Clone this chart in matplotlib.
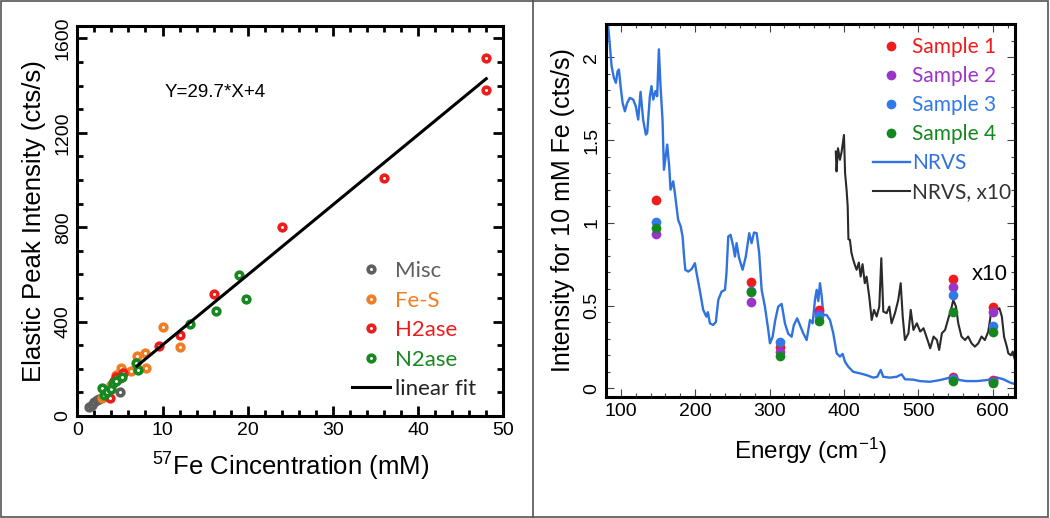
import matplotlib
matplotlib.use("Agg")
import matplotlib.pyplot as plt
from matplotlib.ticker import MultipleLocator, FormatStrFormatter
from matplotlib.lines import Line2D
from matplotlib.patches import Rectangle
import numpy as np

plt.rcParams['font.family'] = ['Liberation Sans', 'DejaVu Sans']
plt.rcParams['mathtext.fontset'] = 'custom'
plt.rcParams['mathtext.rm'] = 'Liberation Sans'
plt.rcParams['mathtext.it'] = 'Liberation Sans:italic'

# ---------------- Left panel data ----------------
misc_x = [1.4, 1.7, 2.0, 2.3, 2.6, 5.0]
misc_y = [37, 45, 58, 66, 72, 103]
fes_x = [2.9, 3.2, 3.6, 4.0, 4.6, 5.1, 5.5, 6.3, 7.0, 8.0, 8.1, 10.0, 12.0]
fes_y = [75, 95, 110, 130, 175, 202, 185, 192, 254, 266, 202, 376, 294]
h2_x = [3.8, 4.3, 4.6, 5.0, 5.4, 9.6, 12.0, 16.0, 24.0, 36.0, 48.0, 48.0]
h2_y = [78, 150, 165, 160, 181, 298, 343, 517, 800, 1009, 1519, 1381]
n2_x = [2.9, 3.1, 3.5, 3.9, 4.2, 4.5, 5.2, 6.9, 7.1, 13.2, 16.3, 19.0, 19.8]
n2_y = [120, 88, 103, 115, 138, 150, 167, 226, 196, 389, 444, 598, 494]
fit_slope = 29.7
fit_intercept = 4
fit_range = [7, 48]

# ---------------- Right panel data ----------------
sample_E = [147, 275, 314, 366, 546, 600]
sample1 = [1.14, 0.641, 0.252, 0.474, 0.066, 0.049]
sample2 = [0.932, 0.524, 0.222, 0.45, 0.062, 0.046]
sample3 = [1.002, 0.585, 0.278, 0.44, 0.057, 0.038]
sample4 = [0.966, 0.583, 0.197, 0.409, 0.046, 0.034]
x10_sample_E = [546, 600]
sample1_x10 = [0.663, 0.49]
sample2_x10 = [0.615, 0.463]
sample3_x10 = [0.566, 0.377]
sample4_x10 = [0.46, 0.343]

nrvs_E = [80, 82.9, 85.2, 87.5, 90.6, 93.3, 95.6, 97.4, 99.6, 102.3,
          105.4, 108.5, 112, 116.5, 120, 123.3, 126.5, 130, 133.6, 135.4,
          139, 141.2, 143.5, 146.6, 148.8, 151.1, 153.3, 156, 157.9, 162.3,
          165, 166.8, 170.4, 172.6, 177, 180.3, 183, 185, 186.6, 190.6,
          195, 199.6, 201.8, 206, 210.7, 215, 217, 219.7, 224, 227.7,
          231, 235.4, 240, 242, 244.4, 247.5, 251, 253.4, 255.6, 258.8,
          263.7, 268, 272.6, 275.8, 279, 282.6, 286, 289.3, 293.7, 298.2,
          300.5, 304, 307.6, 311.6, 316.2, 320.6, 325, 329.6, 332.5, 337,
          341.6, 345.2, 349.8, 354.3, 357.9, 361, 363.3, 365.5, 367.7, 370,
          372.2, 376.7, 381.2, 385.6, 390.2, 394.6, 398.2, 401.4, 405.8, 412.5,
          421.4, 430.4, 439.4, 444.8, 449.4, 452.8, 461.8, 470.8, 477.6, 482,
          493, 502, 515.5, 529, 538, 547, 556, 565, 578.5, 592,
          605.5, 614.5, 623.5, 630]
nrvs_I = [2.3, 2.19, 2.07, 1.946, 1.875, 1.845, 1.915, 1.925, 1.825, 1.724,
          1.673, 1.724, 1.754, 1.744, 1.704, 1.623, 1.79, 1.62, 1.532, 1.542,
          1.764, 1.825, 1.744, 1.795, 1.764, 2.047, 1.825, 1.623, 1.32, 1.472,
          1.34, 1.2, 1.25, 1.18, 1.018, 0.98, 0.917, 0.796, 0.716, 0.705,
          0.72, 0.756, 0.696, 0.595, 0.474, 0.433, 0.46, 0.393, 0.383, 0.40,
          0.534, 0.584, 0.595, 0.696, 0.917, 0.927, 0.86, 0.796, 0.877, 0.79,
          0.716, 0.796, 0.937, 0.877, 0.941, 0.937, 0.817, 0.595, 0.494, 0.353,
          0.272, 0.31, 0.413, 0.494, 0.51, 0.393, 0.33, 0.312, 0.38, 0.423,
          0.373, 0.333, 0.292, 0.413, 0.393, 0.534, 0.595, 0.527, 0.635, 0.56,
          0.443, 0.443, 0.413, 0.333, 0.212, 0.192, 0.208, 0.161, 0.131, 0.10,
          0.091, 0.08, 0.065, 0.07, 0.111, 0.07, 0.065, 0.07, 0.085, 0.055,
          0.053, 0.044, 0.04, 0.05, 0.06, 0.07, 0.05, 0.044, 0.044, 0.05,
          0.066, 0.055, 0.035, 0.026]

x10_E = [389, 390, 392, 394.6, 396.9, 400, 401.5, 403.5, 405, 406,
         408, 410, 412.5, 415, 417, 420, 422.4, 425, 428, 430.4,
         434, 437.3, 440.4, 444, 447.5, 450.2, 452.9, 457.4, 461, 464,
         468.6, 473, 476.3, 479, 482, 486.7, 489.8, 493.4, 498, 502.5,
         507, 512.4, 516, 520.5, 525, 528, 531.7, 536, 540.4, 545,
         547, 550.6, 553.7, 558, 562.7, 567, 571.6, 576, 580.6, 585,
         589.5, 594, 597.4, 601, 605.5, 609, 612.3, 615.3, 619, 621,
         624.3, 627, 630]
x10_I = [1.43, 1.31, 1.45, 1.38, 1.43, 1.53, 1.3, 1.2, 1.1, 0.9,
         0.897, 0.82, 0.776, 0.74, 0.716, 0.76, 0.675, 0.75, 0.635, 0.675,
         0.553, 0.413, 0.474, 0.434, 0.494, 0.786, 0.464, 0.454, 0.494, 0.393,
         0.454, 0.534, 0.635, 0.434, 0.292, 0.333, 0.474, 0.353, 0.393, 0.343,
         0.363, 0.292, 0.242, 0.313, 0.292, 0.232, 0.333, 0.353, 0.423, 0.494,
         0.534, 0.494, 0.393, 0.313, 0.292, 0.313, 0.272, 0.252, 0.272, 0.313,
         0.292, 0.343, 0.443, 0.494, 0.474, 0.484, 0.434, 0.312, 0.252, 0.212,
         0.20, 0.222, 0.171]

# ---------------- Styles ----------------
C_MISC = '#5f5f5f'
C_FES = '#f07d22'
C_H2 = '#ee1d1d'
C_N2 = '#17871f'
C_S1 = '#f01c1c'
C_S2 = '#9a35c8'
C_S3 = '#2f7ae8'
C_S4 = '#15871f'
C_NRVS = '#2f72e0'
C_X10 = '#2a2a2a'

fig = plt.figure(figsize=(10.5, 5.18), dpi=100)

# frames
fig.add_artist(Rectangle((0.001, 0.002), 0.997, 0.996, transform=fig.transFigure,
                         fill=False, ec='#555555', lw=1.2))
fig.add_artist(Line2D([533 / 1050, 533 / 1050], [0, 1], transform=fig.transFigure,
                      color='#555555', lw=1.2))

# ================= Left panel =================
ax1 = fig.add_axes([77.3 / 1050, (518 - 416) / 518, 426 / 1050, (416 - 25.5) / 518])
ring = dict(marker='o', ms=4.8, mew=2.6, mfc='white', ls='none')
ax1.plot(misc_x, misc_y, mec=C_MISC, label='Misc', **ring)
ax1.plot(fes_x, fes_y, mec=C_FES, label='Fe-S', **ring)
ax1.plot(h2_x, h2_y, mec=C_H2, label='H2ase', **ring)
ax1.plot(n2_x, n2_y, mec=C_N2, label='N2ase', **ring)
fx = np.array(fit_range, dtype=float)
ax1.plot(fx, fit_slope * fx + fit_intercept, color='black', lw=2.2, label='linear fit')

ax1.set_xlim(0, 50)
ax1.set_ylim(0, 1655)
ax1.xaxis.set_major_locator(MultipleLocator(10))
ax1.xaxis.set_minor_locator(MultipleLocator(2))
ax1.yaxis.set_major_locator(MultipleLocator(400))
ax1.yaxis.set_minor_locator(MultipleLocator(100))
for s in ax1.spines.values():
    s.set_linewidth(2.2)
ax1.tick_params(which='both', direction='in', top=True, right=True, width=2.0)
ax1.tick_params(which='major', length=7, labelsize=14, pad=4)
ax1.tick_params(which='minor', length=4)
ax1.tick_params(axis='y', labelrotation=90)
for lab in ax1.get_yticklabels():
    lab.set_va('center')
ax1.set_xlabel(r'$^{57}$Fe Cincentration (mM)', fontsize=18.5, labelpad=9)
ax1.set_ylabel('Elastic Peak Intensity (cts/s)', fontsize=18.5, labelpad=6)
ax1.text(10.3, 1372, 'Y=29.7*X+4', fontsize=13.5, va='center', ha='left')

leg1 = ax1.legend(loc='upper left', bbox_to_anchor=(0.645, 0.397), frameon=False,
                  prop={'family': 'Lato', 'size': 16}, handlelength=1.7,
                  handletextpad=0.25, labelspacing=0.43, borderpad=0, borderaxespad=0)
for t, c in zip(leg1.get_texts(), [C_MISC, C_FES, C_H2, C_N2, '#222222']):
    t.set_color(c)

# ================= Right panel =================
ax2 = fig.add_axes([606 / 1050, (518 - 397) / 518, 409 / 1050, (397 - 24) / 518])
ax2.plot(nrvs_E, nrvs_I, color=C_NRVS, lw=1.7, label='NRVS', zorder=2)
ax2.plot(x10_E, x10_I, color=C_X10, lw=1.5, label='NRVS, x10', zorder=2)
dot = dict(marker='o', ms=7, ls='none', mew=0, zorder=3)
ax2.plot(sample_E, sample1, color=C_S1, label='Sample 1', **dot)
ax2.plot(sample_E, sample2, color=C_S2, label='Sample 2', **dot)
ax2.plot(sample_E, sample3, color=C_S3, label='Sample 3', **dot)
ax2.plot(sample_E, sample4, color=C_S4, label='Sample 4', **dot)
ax2.plot(x10_sample_E, sample1_x10, color=C_S1, **dot)
ax2.plot(x10_sample_E, sample2_x10, color=C_S2, **dot)
ax2.plot(x10_sample_E, sample3_x10, color=C_S3, **dot)
ax2.plot(x10_sample_E, sample4_x10, color=C_S4, **dot)
ax2.text(572, 0.69, 'x10', fontsize=16, va='center', ha='left')

ax2.set_xlim(80, 630)
ax2.set_ylim(-0.052, 2.2)
ax2.xaxis.set_major_locator(MultipleLocator(100))
ax2.xaxis.set_minor_locator(MultipleLocator(20))
ax2.yaxis.set_major_locator(MultipleLocator(0.5))
ax2.yaxis.set_minor_locator(MultipleLocator(0.1))
ax2.yaxis.set_major_formatter(FormatStrFormatter('%g'))
for s in ax2.spines.values():
    s.set_linewidth(2.2)
ax2.tick_params(which='both', direction='in', top=True, right=True, width=0.8, color='#444444')
ax2.tick_params(which='major', length=6, labelsize=14, pad=4)
ax2.tick_params(which='minor', length=3)
ax2.tick_params(axis='y', labelrotation=90)
for lab in ax2.get_yticklabels():
    lab.set_va('center')
ax2.set_xlabel(r'Energy (cm$^{-1}$)', fontsize=17.5, labelpad=12)
ax2.set_ylabel('Intensity for 10 mM Fe (cts/s)', fontsize=18, labelpad=6)

handles, labels = ax2.get_legend_handles_labels()
order = [labels.index(n) for n in ['Sample 1', 'Sample 2', 'Sample 3', 'Sample 4', 'NRVS', 'NRVS, x10']]
leg2 = ax2.legend([handles[i] for i in order], [labels[i] for i in order],
                  loc='upper left', bbox_to_anchor=(0.653, 0.965), frameon=False,
                  prop={'family': 'Lato', 'size': 15}, handlelength=1.75,
                  handletextpad=0.12, labelspacing=0.43, borderpad=0, borderaxespad=0)
for t, c in zip(leg2.get_texts(), [C_S1, C_S2, C_S3, C_S4, C_NRVS, '#333333']):
    t.set_color(c)

fig.savefig('out.png', dpi=100)
